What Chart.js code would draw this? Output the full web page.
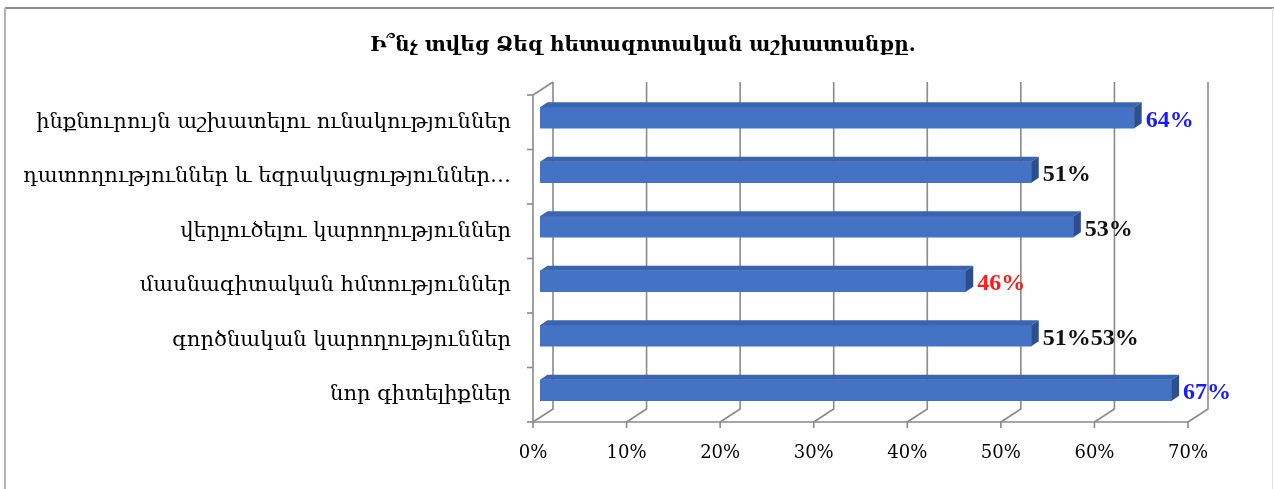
<!DOCTYPE html>
<html>
<head>
<meta charset="utf-8">
<script src="https://cdn.jsdelivr.net/npm/chart.js@4/dist/chart.umd.min.js"></script>
<style>
html, body { margin: 0; padding: 0; background: #fff; }
#wrap { width: 1274px; height: 489px; }
</style>
</head>
<body>
<div id="wrap"><canvas id="myChart" width="1274" height="489"></canvas></div>
<script>
const title = 'Ի՞նչ տվեց Ձեզ հետազոտական աշխատանքը.';
const categories = [
    'ինքնուրույն աշխատելու ունակություններ',
    'դատողություններ և եզրակացություններ…',
    'վերլուծելու կարողություններ',
    'մասնագիտական հմտություններ',
    'գործնական կարողություններ',
    'նոր գիտելիքներ'
];
// bar lengths (percent)
const values = [63.5, 52.5, 57, 45.5, 52.5, 67.5];
// the labels as written on the chart
const valueLabels = ['64%', '51%', '53%', '46%', '51%53%', '67%'];
const xTickValues = [0, 10, 20, 30, 40, 50, 60, 70];

const labelColors = ['#1a1aff', '#111', '#111', '#ff1a1a', '#111', '#1a1aff'];

// 3d look
const DEPTH_X = 20, DEPTH_Y = -13;
const BAR_SHIFT_X = 7, BAR_SHIFT_Y = -4.5;
const BAR_DX = 7.5, BAR_DY = -5;
const GRID = '#8a8a8a';

const framePlugin = {
    id: 'frame',
    beforeDraw(chart) {
        const ctx = chart.ctx;
        ctx.save();
        ctx.lineWidth = 2;
        ctx.strokeStyle = '#8c8c8c';
        ctx.beginPath(); ctx.moveTo(5, 8); ctx.lineTo(1274, 8); ctx.stroke();
        ctx.strokeStyle = '#b4b4b4';
        ctx.beginPath(); ctx.moveTo(5, 8); ctx.lineTo(5, 489); ctx.stroke();
        ctx.lineWidth = 1;
        ctx.strokeStyle = '#e2e2e2';
        ctx.beginPath(); ctx.moveTo(1272.5, 8); ctx.lineTo(1272.5, 489); ctx.stroke();
        ctx.restore();
    }
};

const wallPlugin = {
    id: 'walls',
    beforeDatasetsDraw(chart) {
        const ctx = chart.ctx;
        const { left, right, top, bottom } = chart.chartArea;
        const xs = chart.scales.x, ys = chart.scales.y;
        ctx.save();
        ctx.strokeStyle = GRID;
        ctx.lineWidth = 1.6;
        xTickValues.forEach(v => {
            const px = xs.getPixelForValue(v);
            ctx.beginPath();
            ctx.moveTo(px + DEPTH_X, top + DEPTH_Y);
            ctx.lineTo(px + DEPTH_X, bottom + DEPTH_Y);
            ctx.lineTo(px, bottom);
            ctx.lineTo(px, bottom + 6);
            ctx.stroke();
        });
        // floor front edge and left wall
        ctx.beginPath();
        ctx.moveTo(right, bottom);
        ctx.lineTo(left, bottom);
        ctx.lineTo(left, top);
        ctx.lineTo(left + DEPTH_X, top + DEPTH_Y);
        ctx.stroke();
        const band = ys.getPixelForValue(1) - ys.getPixelForValue(0);
        for (let i = 0; i <= categories.length; i++) {
            const py = ys.getPixelForValue(0) - band / 2 + i * band;
            ctx.beginPath();
            ctx.moveTo(left - 6, py);
            ctx.lineTo(left, py);
            ctx.stroke();
        }
        ctx.restore();
    }
};

const bar3dPlugin = {
    id: 'bar3d',
    beforeDatasetDraw(chart) {
        chart.ctx.save();
        chart.ctx.translate(BAR_SHIFT_X, BAR_SHIFT_Y);
    },
    afterDatasetDraw(chart, args) {
        const ctx = chart.ctx;
        args.meta.data.forEach((bar, i) => {
            const { x, y, base, height } = bar.getProps(['x', 'y', 'base', 'height'], true);
            const t = y - height / 2, b = y + height / 2;
            ctx.fillStyle = '#3b64ae';
            ctx.beginPath();
            ctx.moveTo(base, t);
            ctx.lineTo(x, t);
            ctx.lineTo(x + BAR_DX, t + BAR_DY);
            ctx.lineTo(base + BAR_DX, t + BAR_DY);
            ctx.closePath();
            ctx.fill();
            ctx.fillStyle = '#2d4f8e';
            ctx.beginPath();
            ctx.moveTo(x, t);
            ctx.lineTo(x + BAR_DX, t + BAR_DY);
            ctx.lineTo(x + BAR_DX, b + BAR_DY);
            ctx.lineTo(x, b);
            ctx.closePath();
            ctx.fill();

            ctx.font = 'bold 24px "Liberation Serif"';
            ctx.fillStyle = labelColors[i];
            ctx.textAlign = 'left';
            ctx.textBaseline = 'middle';
            ctx.fillText(valueLabels[i], x + BAR_DX + 4, y + 3);
        });
        ctx.restore();
    }
};

new Chart(document.getElementById('myChart'), {
    type: 'bar',
    data: {
        labels: categories,
        datasets: [{
            data: values,
            backgroundColor: '#4472c4',
            borderWidth: 0,
            barThickness: 21
        }]
    },
    options: {
        indexAxis: 'y',
        responsive: false,
        animation: false,
        devicePixelRatio: 1,
        layout: { padding: { left: 12, right: 0, top: 0, bottom: 0 } },
        plugins: {
            legend: { display: false },
            tooltip: { enabled: false },
            title: {
                display: true,
                text: title,
                color: '#000',
                font: { family: 'DejaVu Serif', size: 20, weight: 'bold' },
                padding: { top: 34, bottom: 37 }
            }
        },
        scales: {
            x: {
                min: 0,
                max: 70,
                grid: { display: false, drawTicks: false },
                border: { display: false },
                ticks: {
                    stepSize: 10,
                    color: '#000',
                    font: { family: 'DejaVu Serif', size: 18 },
                    padding: 21,
                    callback: v => v + '%'
                },
                // room on the right for the back wall and the value labels
                afterFit: s => { s.height = 67; s.paddingRight = 86; }
            },
            y: {
                grid: { display: false, drawTicks: false },
                border: { display: false },
                ticks: {
                    color: '#000',
                    font: { family: 'DejaVu Serif', size: 21 },
                    padding: 22
                },
                afterFit: s => { s.width = 521; }
            }
        }
    },
    plugins: [framePlugin, wallPlugin, bar3dPlugin]
});
</script>
</body>
</html>
